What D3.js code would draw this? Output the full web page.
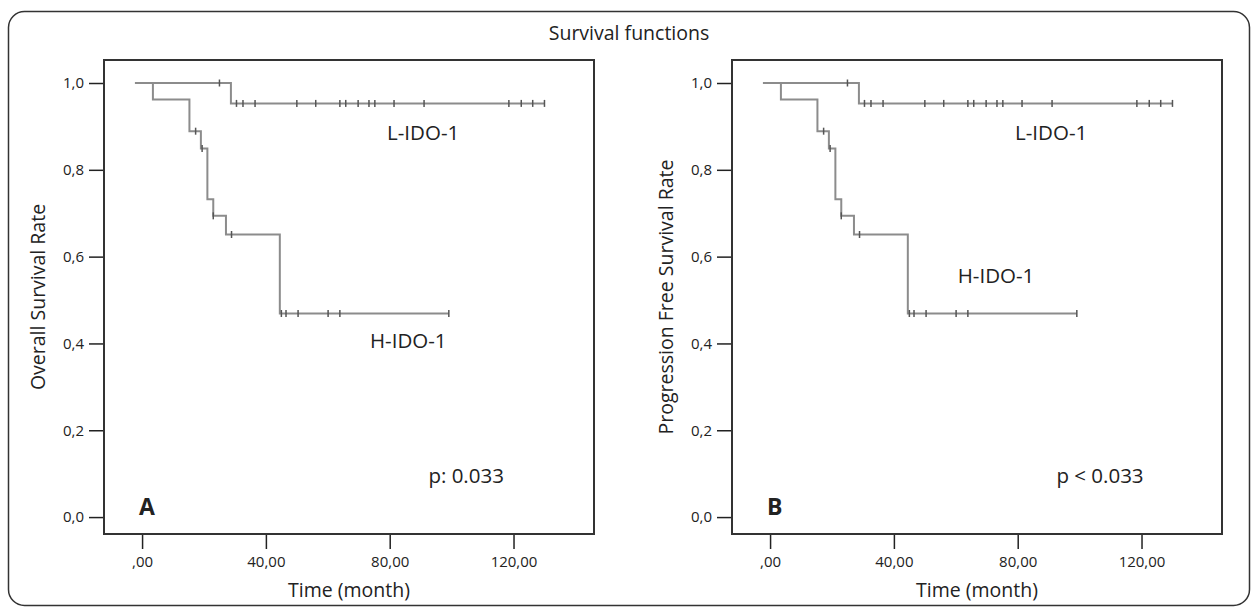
<!DOCTYPE html>
<html>
<head>
<meta charset="utf-8">
<script src="https://cdn.jsdelivr.net/npm/d3@7"></script>
<style>
  body { margin: 0; background: #fff; }
  svg { display: block; }
  text { font-family: "Open Sans", sans-serif; fill: #222; }
</style>
</head>
<body>
<svg id="chart" width="1258" height="616"></svg>
<script>
// H-IDO-1 group: step start times (month) and survival level from that time on
const highTimes = [-2.3, 3.5, 15.3, 19.0, 21.1, 23.0, 27.1, 44.5];
const highSurvival = [1.0, 0.962, 0.889, 0.849, 0.732, 0.694, 0.651, 0.469];
const highEnd = 99.1;
const highCensored = [17.3, 19.4, 23.0, 28.9, 45.0, 46.5, 50.4, 60.1, 63.9, 99.1];

// L-IDO-1 group
const lowTimes = [-2.3, 28.7];
const lowSurvival = [1.0, 0.953];
const lowEnd = 130.0;
const lowCensored = [25.0, 30.5, 32.6, 36.5, 50.0, 56.1, 63.9, 65.8, 69.8, 73.3,
                     75.2, 81.4, 91.1, 118.5, 122.5, 126.2, 130.0];

const timeTicks = [0, 40, 80, 120];
const rateTicks = [0, 0.2, 0.4, 0.6, 0.8, 1.0];

const panels = [
  { left: 104, tag: "A", yTitle: "Overall Survival Rate", pText: "p: 0.033", highLabelAt: [86, 0.389] },
  { left: 732, tag: "B", yTitle: "Progression Free Survival Rate", pText: "p < 0.033", highLabelAt: [73, 0.539] }
];

const svg = d3.select("#chart");

// outer rounded frame
svg.append("rect")
  .attr("x", 8.5).attr("y", 11.5)
  .attr("width", 1241).attr("height", 594)
  .attr("rx", 16)
  .attr("fill", "none")
  .attr("stroke", "#333")
  .attr("stroke-width", 1.5);

svg.append("text")
  .attr("x", 629).attr("y", 40)
  .attr("text-anchor", "middle")
  .attr("font-size", 19.5)
  .text("Survival functions");

const plotTop = 60, plotW = 490, plotH = 474;

function stepPoints(times, levels, end) {
  const pts = times.map((t, i) => [t, levels[i]]);
  pts.push([end, levels[levels.length - 1]]);
  return pts;
}

function levelAt(times, levels, t) {
  let v = levels[0];
  times.forEach((s, i) => { if (t >= s) v = levels[i]; });
  return v;
}

const commaFmt = (d, n) => d3.format("." + n + "f")(d).replace(".", ",");

panels.forEach(p => {
  const g = svg.append("g").attr("transform", `translate(${p.left},${plotTop})`);

  const x = d3.scaleLinear().domain([-12.3, 146]).range([0, plotW]);
  const y = d3.scaleLinear().domain([-0.039, 1.053]).range([plotH, 0]);

  // axes
  const yAxis = g.append("g")
    .call(d3.axisLeft(y).tickValues(rateTicks).tickSize(15).tickPadding(5)
      .tickFormat(d => commaFmt(d, 1)));
  const xAxis = g.append("g")
    .attr("transform", `translate(0,${plotH})`)
    .call(d3.axisBottom(x).tickValues(timeTicks).tickSize(15).tickPadding(7)
      .tickFormat(d => d === 0 ? ",00" : commaFmt(d, 2)));
  [yAxis, xAxis].forEach(a => {
    a.select(".domain").remove();
    a.selectAll(".tick line").attr("stroke", "#222").attr("stroke-width", 1.5);
    a.selectAll(".tick text").attr("font-size", 15).attr("fill", "#222")
      .attr("font-family", "'Open Sans', sans-serif");
  });

  // plot frame
  g.append("rect")
    .attr("width", plotW).attr("height", plotH)
    .attr("fill", "none")
    .attr("stroke", "#333")
    .attr("stroke-width", 2);

  const line = d3.line().x(d => x(d[0])).y(d => y(d[1])).curve(d3.curveStepAfter);

  const groups = [
    { times: highTimes, levels: highSurvival, end: highEnd, cens: highCensored },
    { times: lowTimes, levels: lowSurvival, end: lowEnd, cens: lowCensored }
  ];

  groups.forEach(s => {
    g.append("path")
      .datum(stepPoints(s.times, s.levels, s.end))
      .attr("d", line)
      .attr("fill", "none")
      .attr("stroke", "#8c8c8c")
      .attr("stroke-width", 2);

    g.selectAll(null)
      .data(s.cens)
      .enter().append("line")
      .attr("x1", d => x(d)).attr("x2", d => x(d))
      .attr("y1", d => y(levelAt(s.times, s.levels, d)) - 3.5)
      .attr("y2", d => y(levelAt(s.times, s.levels, d)) + 3.5)
      .attr("stroke", "#555")
      .attr("stroke-width", 1.5);
  });

  // curve labels
  g.append("text")
    .attr("x", x(90.8)).attr("y", y(0.869))
    .attr("text-anchor", "middle").attr("font-size", 20.5)
    .text("L-IDO-1");
  g.append("text")
    .attr("x", x(p.highLabelAt[0])).attr("y", y(p.highLabelAt[1]))
    .attr("text-anchor", "middle").attr("font-size", 20.5)
    .text("H-IDO-1");
  g.append("text")
    .attr("x", x(92.5)).attr("y", y(0.078))
    .attr("font-size", 20.5)
    .text(p.pText);

  g.append("text")
    .attr("x", 35).attr("y", plotH - 19)
    .attr("font-size", 23).attr("font-weight", "bold")
    .text(p.tag);

  // axis titles
  g.append("text")
    .attr("x", plotW / 2).attr("y", plotH + 63)
    .attr("text-anchor", "middle").attr("font-size", 19.5)
    .text("Time (month)");
  g.append("text")
    .attr("transform", `translate(-59,${plotH / 2}) rotate(-90)`)
    .attr("text-anchor", "middle").attr("font-size", 19.5)
    .text(p.yTitle);
});
</script>
</body>
</html>
